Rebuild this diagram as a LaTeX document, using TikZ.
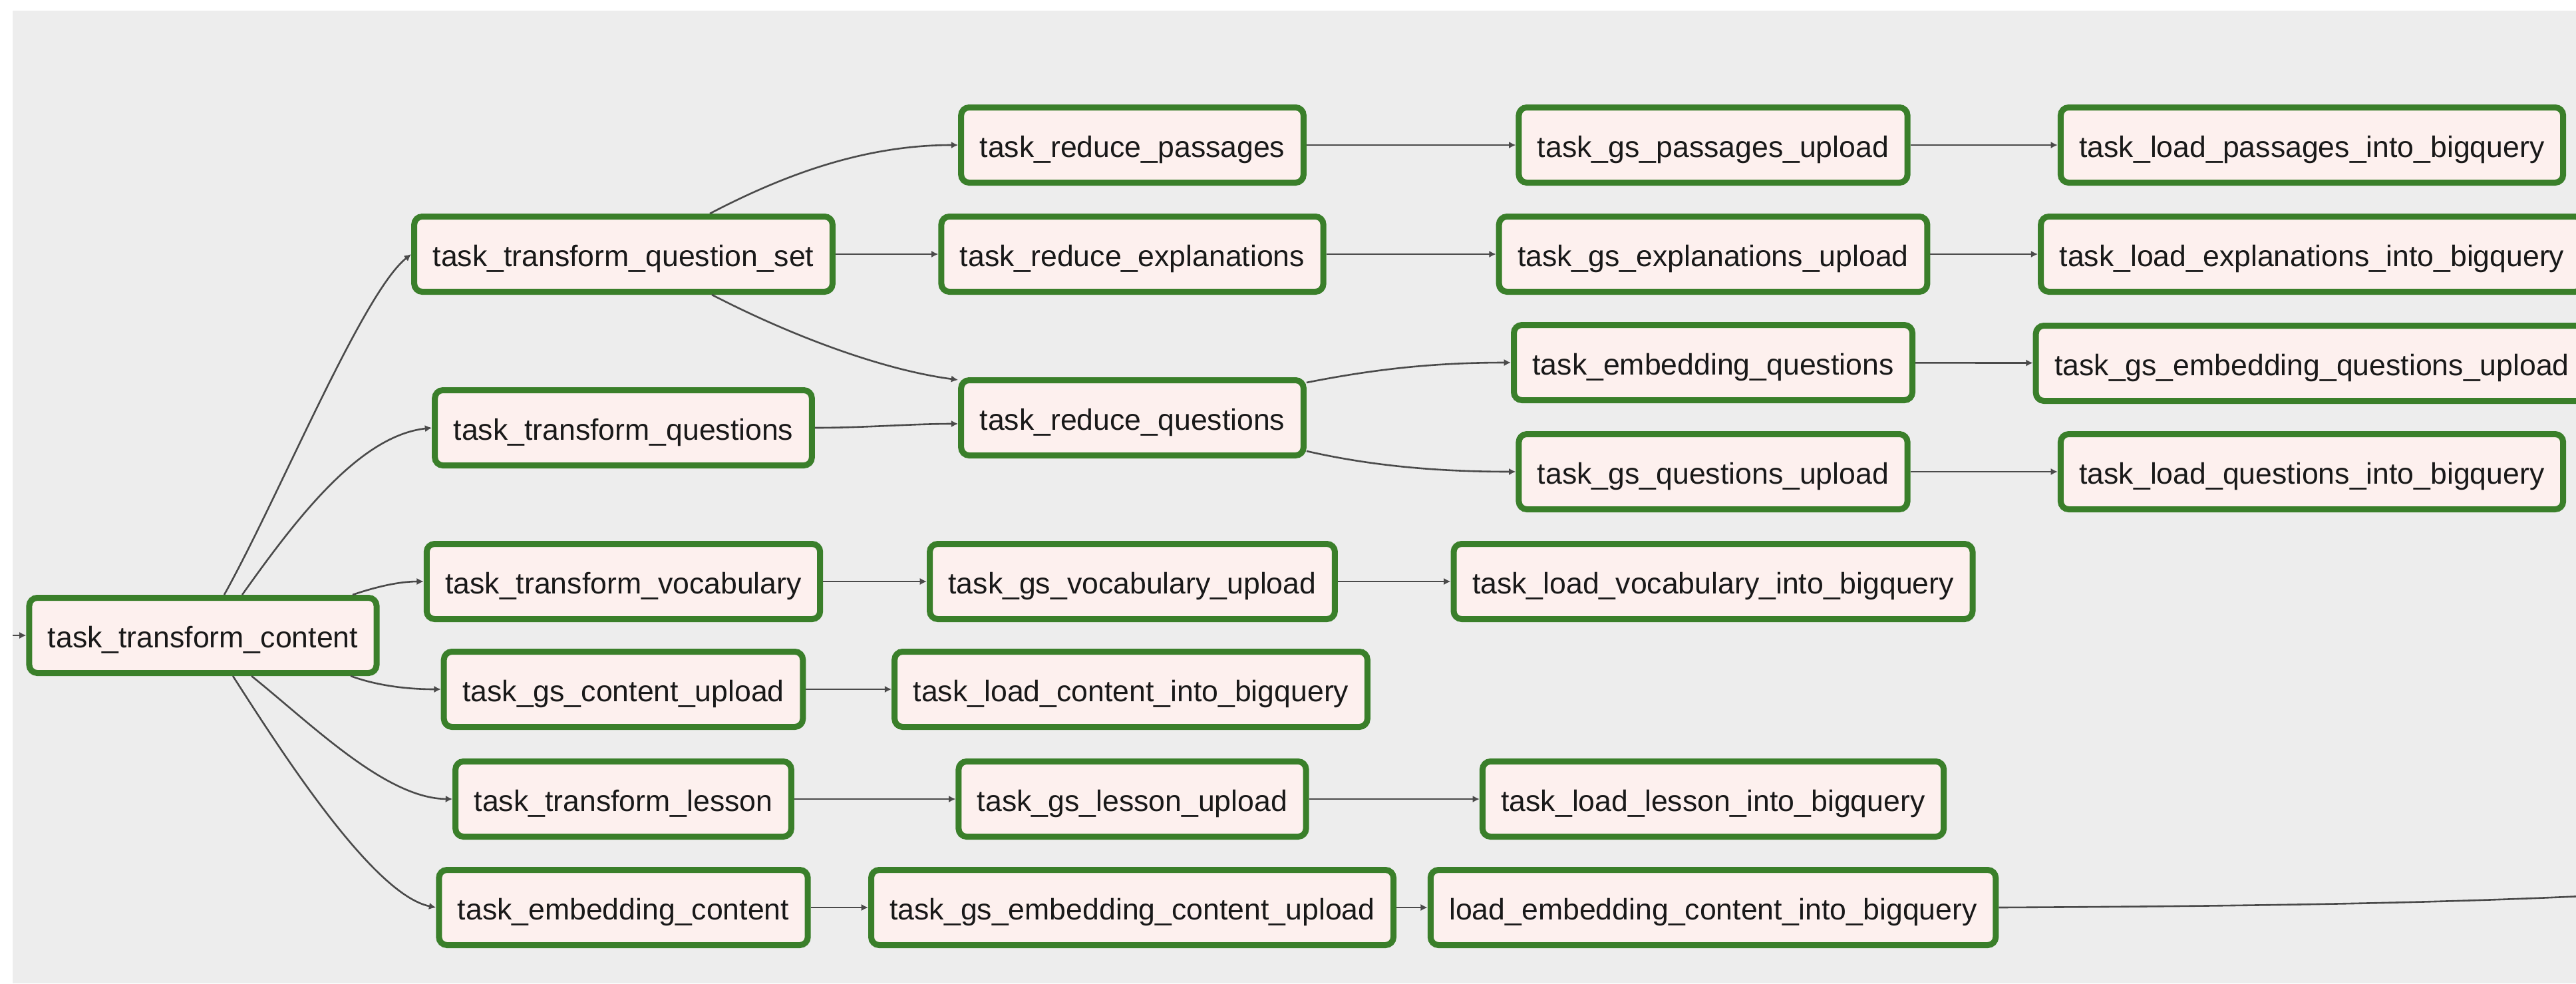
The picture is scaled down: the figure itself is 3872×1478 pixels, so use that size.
\documentclass[tikz,border=0pt]{standalone}
\usepackage{fontspec}
\setmainfont{Liberation Sans}
\usetikzlibrary{arrows.meta,calc}
\definecolor{canvas}{HTML}{EDEDED}
\definecolor{taskfill}{HTML}{FDF0EE}
\definecolor{taskline}{HTML}{3A7F2A}
\definecolor{edgeline}{HTML}{4A4A4A}
\begin{document}
\begin{tikzpicture}[x=0.25pt,y=-0.25pt,
  task/.style={rectangle, rounded corners=3pt, draw=taskline, line width=2.25pt,
    fill=taskfill, minimum height=28.25pt, inner xsep=7pt, inner ysep=0pt,
    outer sep=1.125pt, text height=11pt, text depth=2pt,
    font=\fontsize{11.15pt}{13pt}\selectfont, text=black!90},
  edge/.style={draw=edgeline, line width=0.65pt,
    -{Latex[length=2.6pt,width=2.6pt]}}]

% canvas
\useasboundingbox (0,0) rectangle (3872,1478);
\clip (0,0) rectangle (3872,1478);
\fill[white] (0,0) rectangle (3872,1478);
\fill[canvas] (19,16) rectangle (3872,1478);

% tasks
\node[task] (ttc)  at (305,955)   {task\_transform\_content};
\node[task] (tqs)  at (937,382)   {task\_transform\_question\_set};
\node[task] (tq)   at (937,643)   {task\_transform\_questions};
\node[task] (tv)   at (937,874)   {task\_transform\_vocabulary};
\node[task] (tgc)  at (937,1036)  {task\_gs\_content\_upload};
\node[task] (tl)   at (937,1201)  {task\_transform\_lesson};
\node[task] (tec)  at (937,1364)  {task\_embedding\_content};

\node[task] (trp)  at (1702,218)  {task\_reduce\_passages};
\node[task] (tre)  at (1702,382)  {task\_reduce\_explanations};
\node[task] (trq)  at (1702,628)  {task\_reduce\_questions};
\node[task] (tgv)  at (1702,874)  {task\_gs\_vocabulary\_upload};
\node[task] (tlc)  at (1700,1036) {task\_load\_content\_into\_bigquery};
\node[task] (tgl)  at (1702,1201) {task\_gs\_lesson\_upload};
\node[task] (tgec) at (1702,1364) {task\_gs\_embedding\_content\_upload};

\node[task] (tgp)  at (2575,218)  {task\_gs\_passages\_upload};
\node[task] (tge)  at (2575,382)  {task\_gs\_explanations\_upload};
\node[task] (teq)  at (2575,545)  {task\_embedding\_questions};
\node[task] (tgq)  at (2575,709)  {task\_gs\_questions\_upload};
\node[task] (tlv)  at (2575,874)  {task\_load\_vocabulary\_into\_bigquery};
\node[task] (tll)  at (2575,1201) {task\_load\_lesson\_into\_bigquery};
\node[task] (lec)  at (2575,1364) {load\_embedding\_content\_into\_bigquery};

\node[task] (tlp)  at (3475,218)  {task\_load\_passages\_into\_bigquery};
\node[task] (tle)  at (3475,382)  {task\_load\_explanations\_into\_bigquery};
\node[task] (tgeq) at (3475,546)  {task\_gs\_embedding\_questions\_upload};
\node[task] (tlq)  at (3475,709)  {task\_load\_questions\_into\_bigquery};

% loose ends
\coordinate (feed) at (19,955);
\coordinate (sink) at (3960,1343);

% dependencies
\draw[edge] (feed) -- (ttc.west);

\draw[edge] ($(ttc.north)+(32,0)$) .. controls (420,745) and (545,440) .. (tqs.west);
\draw[edge] ($(ttc.north)+(59,0)$) .. controls (445,780) and (540,655) .. (tq.west);
\draw[edge] ($(ttc.north)+(225,0)$) .. controls (565,882) and (600,874) .. (tv.west);
\draw[edge] ($(ttc.south)+(222,0)$) .. controls (565,1030) and (610,1036) .. (tgc.west);
\draw[edge] ($(ttc.south)+(73,0)$) .. controls (470,1090) and (580,1200) .. (tl.west);
\draw[edge] ($(ttc.south)+(45,0)$) .. controls (420,1125) and (560,1345) .. (tec.west);

\draw[edge] ($(tqs.north)+(130,0)$) .. controls (1180,262) and (1300,218) .. (trp.west);
\draw[edge] (tqs) -- (tre);
\draw[edge] ($(tqs.south)+(133,0)$) .. controls (1180,500) and (1320,555) .. ($(trq.north west)+(0,4)$);
\draw[edge] (tq.east) .. controls (1300,643) and (1370,637) .. ($(trq.west)+(0,9)$);

\draw[edge] ($(trq.east)+(0,-53)$) .. controls (2060,556) and (2150,545) .. (teq.west);
\draw[edge] ($(trq.east)+(0,50)$) .. controls (2060,700) and (2160,709) .. (tgq.west);

\draw[edge] (trp) -- (tgp);
\draw[edge] (tgp) -- (tlp);
\draw[edge] (tre) -- (tge);
\draw[edge] (tge) -- (tle);
\draw[edge] (teq) -- (tgeq);
\draw[edge] (tgq) -- (tlq);

\draw[edge] (tv) -- (tgv);
\draw[edge] (tgv) -- (tlv);
\draw[edge] (tgc) -- (tlc);
\draw[edge] (tl) -- (tgl);
\draw[edge] (tgl) -- (tll);
\draw[edge] (tec) -- (tgec);
\draw[edge] (tgec) -- (lec);
\draw[edge] (lec.east) .. controls (3400,1362) and (3700,1357) .. (sink);

\end{tikzpicture}
\end{document}
